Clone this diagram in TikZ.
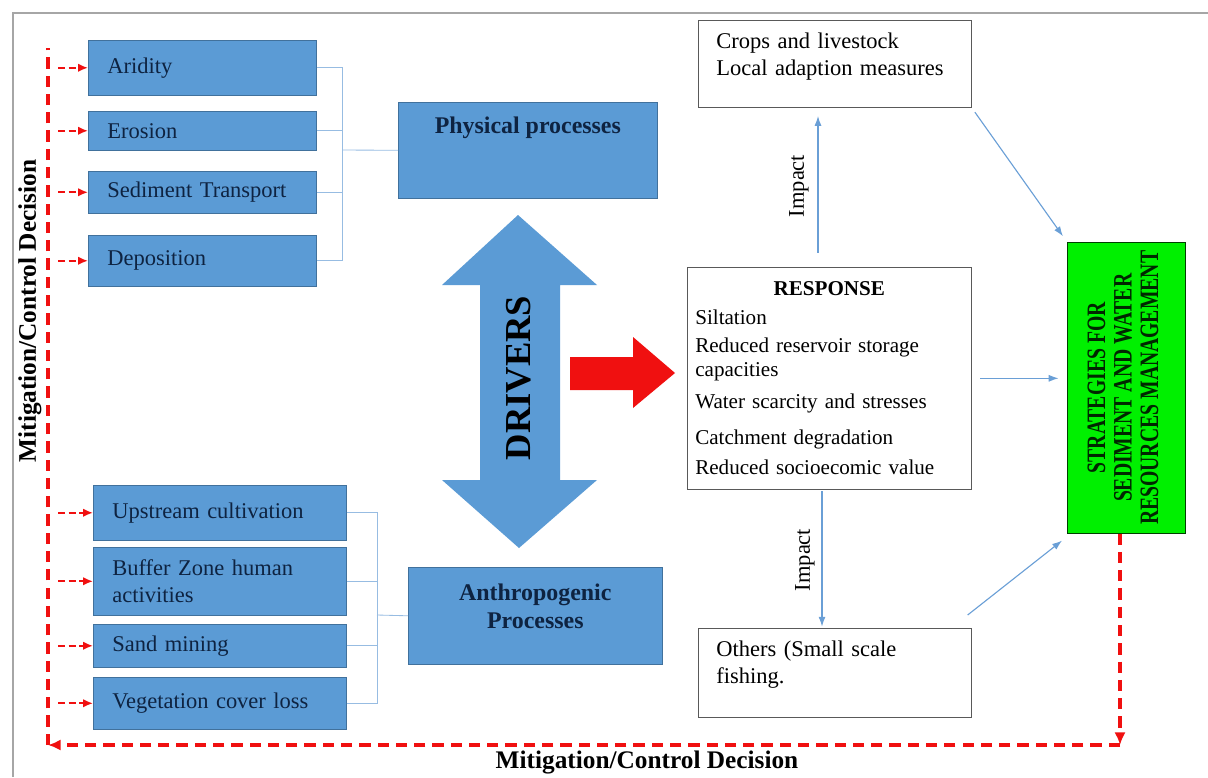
\documentclass[tikz,border=0pt]{standalone}
\usepackage{fontspec}
\setmainfont{Liberation Serif}
\usetikzlibrary{arrows.meta,calc}

\definecolor{procblue}{HTML}{5B9BD5}
\definecolor{procedge}{HTML}{41719C}
\definecolor{proctext}{HTML}{0E2341}
\definecolor{flowblue}{HTML}{6A9FD6}
\definecolor{stratgreen}{HTML}{00F000}
\definecolor{mitred}{HTML}{F01010}

\newcommand{\boxfont}{\fontsize{16}{19}\selectfont}
\newcommand{\respfont}{\fontsize{15}{17}\selectfont}
\newcommand{\headfont}{\bfseries\fontsize{17}{20}\selectfont}
\newcommand{\mitfont}{\bfseries\fontsize{18}{20}\selectfont}

\begin{document}
\begin{tikzpicture}[x=0.025cm, y=-0.025cm,
	procbox/.style={rectangle, draw=procedge, fill=procblue, text=proctext, anchor=north west, inner ysep=0pt},
	physbox/.style={procbox, text width=4.75cm, inner xsep=0.475cm, align=left, font=\boxfont},
	anthbox/.style={procbox, text width=5.375cm, inner xsep=0.475cm, align=left, font=\boxfont},
	infobox/.style={rectangle, draw=gray!70!black, fill=white, anchor=north west, inner ysep=0pt, text width=5.925cm, inner xsep=0.45cm, align=left, font=\boxfont},
	bracket/.style={draw=flowblue!70, line width=0.6pt},
	flow/.style={draw=flowblue, line width=0.8pt, -{Latex[length=7pt,width=5pt]}},
	redtick/.style={draw=mitred, line width=1.3pt, dash pattern=on 5pt off 2.5pt, -{Latex[length=7pt,width=6pt]}},
	mitline/.style={draw=mitred, line width=2.4pt, dash pattern=on 8pt off 5pt}]
	\useasboundingbox (0,0) rectangle (1208,777);
	\draw[gray!70, line width=1.5pt] (13,777) -- (13,13) -- (1208,13);

	% physical side
	\node (arid) at (88, 40)	[physbox, minimum height=1.375cm]	{Aridity};
	\node (eros) at (88,111)	[physbox, minimum height=0.975cm]	{Erosion};
	\node (sedt) at (88,171)	[physbox, minimum height=1.05cm]	{Sediment Transport};
	\node (depo) at (88,235)	[physbox, minimum height=1.275cm]	{Deposition};
	\node (phys) at (398,102)	[procbox, minimum width=6.475cm, text height=0.775cm, text depth=1.625cm, font=\headfont]	{Physical processes};

	% anthropogenic side
	\node (upst) at (93,485)	[anthbox, minimum height=1.375cm]	{Upstream cultivation};
	\node (buff) at (93,547)	[anthbox, minimum height=1.7cm]	{Buffer Zone human\\activities};
	\node (sand) at (93,624)	[anthbox, minimum height=1.075cm]	{Sand mining};
	\node (vege) at (93,677)	[anthbox, minimum height=1.3cm]	{Vegetation cover loss};
	\node (anth) at (408,567)	[procbox, minimum width=6.35cm, minimum height=2.425cm, align=center, font=\headfont]	{Anthropogenic\\Processes\\[-6pt]};

	% drivers
	\fill[procblue] (518,215) -- (597,285) -- (560,285) -- (560,480) -- (597,480) -- (519,548) -- (442,480) -- (480,480) -- (480,285) -- (442,285) -- cycle;
	\node (drivers) at (519,378)	[rotate=90, font=\bfseries\fontsize{26}{26}\selectfont]	{DRIVERS};
	\fill[mitred] (570,357) -- (633,357) -- (633,337) -- (675,373) -- (633,408) -- (633,390) -- (570,390) -- cycle;

	% response and impacts
	\node (crops) at (698,20)	[infobox, text height=0.7cm, text depth=1.475cm]	{Crops and livestock\\Local adaption measures};
	\node (resp) at (687,267)	[infobox, text width=6.7cm, inner xsep=0.2cm, minimum height=5.55cm, font=\respfont]
		{\hbox to \hsize{\hfil\textbf{RESPONSE}\hfil}\\[3pt]
		Siltation\\[3pt]
		Reduced reservoir storage\\
		capacities\\[6pt]
		Water scarcity and stresses\\[9pt]
		Catchment degradation\\[4pt]
		Reduced socioecomic value};
	\node (others) at (698,628)	[infobox, text height=0.7cm, text depth=1.525cm]	{Others (Small scale\\fishing.};
	\node (strat) at (1067,242)	[anchor=north west, draw=green!25!black, fill=stratgreen, minimum width=2.95cm, minimum height=7.275cm, inner sep=0pt, text=green!15!black, font=\bfseries\fontsize{14}{14}\selectfont]
		{\rotatebox{90}{\scalebox{1}[1.35]{\begin{tabular}{@{}c@{}}STRATEGIES FOR\\SEDIMENT AND WATER\\RESOURCES MANAGEMENT\end{tabular}}}};
	\node (impup) at (799,186)	[rotate=90, font=\fontsize{16}{16}\selectfont]	{Impact};
	\node (impdown) at (805,560)	[rotate=90, font=\fontsize{16}{16}\selectfont]	{Impact};

	% mitigation labels
	\node (mitleft) at (30,311)	[rotate=90, font=\mitfont]	{Mitigation/Control Decision};
	\node (mitbottom) at (647,762)	[font=\mitfont]	{Mitigation/Control Decision};

	\coordinate (physjoin) at (342,150);
	\coordinate (anthjoin) at (377,615);
	\coordinate (mitstart) at (58,0);
	\coordinate (impx) at (818,0);
	\coordinate (impy) at (822,0);
	\coordinate (loopR) at (1120,745);
	\coordinate (loopL) at (48,745);
	\coordinate (loopT) at (48,48);

	\draw[bracket] (arid.east) -| (physjoin);
	\draw[bracket] (eros.east) -| (physjoin);
	\draw[bracket] (sedt.east) -| (physjoin);
	\draw[bracket] (depo.east) -| (physjoin);
	\draw[bracket] (physjoin) -- (phys.west);
	\draw[bracket] (upst.east) -| (anthjoin);
	\draw[bracket] (buff.east) -| (anthjoin);
	\draw[bracket] (sand.east) -| (anthjoin);
	\draw[bracket] (vege.east) -| (anthjoin);
	\draw[bracket] (anthjoin) -- (anth.west);

	\draw[flow, shorten <=10pt, shorten >=6pt] (resp.north -| impx) -- (crops.south -| impx);
	\draw[flow, shorten <=1pt, shorten >=1pt] (resp.south -| impy) -- (others.north -| impy);
	\draw[flow, shorten <=4pt, shorten >=5pt] (crops.south east) -- (strat.north west);
	\draw[flow, shorten <=6pt, shorten >=6pt] (resp.east) -- (resp.east -| strat.west);
	\draw[flow] ($(others.north east)+(-4,-13)$) -- ($(strat.south west)+(-5,7)$);

	\draw[redtick] (arid.west -| mitstart) -- (arid.west);
	\draw[redtick] (eros.west -| mitstart) -- (eros.west);
	\draw[redtick] (sedt.west -| mitstart) -- (sedt.west);
	\draw[redtick] (depo.west -| mitstart) -- (depo.west);
	\draw[redtick] (upst.west -| mitstart) -- (upst.west);
	\draw[redtick] (buff.west -| mitstart) -- (buff.west);
	\draw[redtick] (sand.west -| mitstart) -- (sand.west);
	\draw[redtick] (vege.west -| mitstart) -- (vege.west);

	\draw[mitline, -{Latex[length=9pt,width=8pt]}] (strat.south -| loopR) -- (loopR);
	\draw[mitline, -{Latex[length=9pt,width=8pt]}] (loopR) -- (loopL);
	\draw[mitline] (loopL) -- (loopT);
\end{tikzpicture}
\end{document}
